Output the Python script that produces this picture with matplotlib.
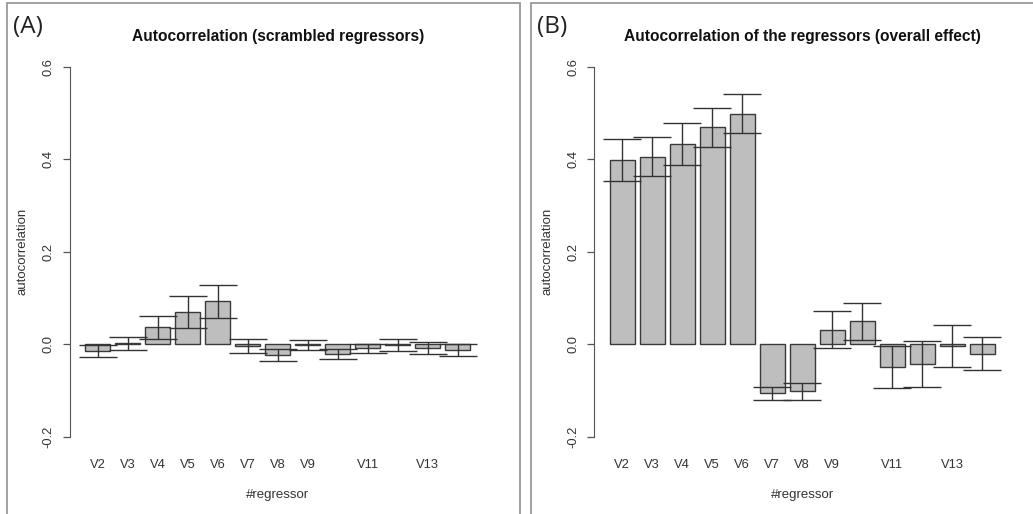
import numpy as np
import matplotlib
matplotlib.use("Agg")
import matplotlib.pyplot as plt
from matplotlib.patches import Rectangle

plt.rcParams["font.family"] = ["Liberation Sans", "DejaVu Sans"]

W, H = 1033, 514

regressors = ["V2", "V3", "V4", "V5", "V6", "V7", "V8", "V9", "V10", "V11", "V12", "V13", "V14"]
# R drops the labels that would overlap
shown_labels = ["V2", "V3", "V4", "V5", "V6", "V7", "V8", "V9", "", "V11", "", "V13", ""]

scrambled_mean = [-0.014, 0.002, 0.037, 0.070, 0.093, -0.003, -0.023, -0.0015,
                  -0.021, -0.009, -0.002, -0.008, -0.012]
scrambled_err = [0.013, 0.014, 0.025, 0.034, 0.036, 0.015, 0.013, 0.011,
                 0.011, 0.010, 0.013, 0.014, 0.013]

overall_mean = [0.398, 0.406, 0.433, 0.469, 0.499, -0.106, -0.102, 0.032,
                0.050, -0.049, -0.043, -0.004, -0.020]
overall_err = [0.045, 0.043, 0.045, 0.043, 0.043, 0.014, 0.019, 0.039,
               0.040, 0.046, 0.050, 0.046, 0.035]

panels = [
    ("(A)", "Autocorrelation (scrambled regressors)", scrambled_mean, scrambled_err),
    ("(B)", "Autocorrelation of the regressors (overall effect)", overall_mean, overall_err),
]

# pixel layout of each panel: (border left, border right, y axis x)
frames = [(6.7, 520, 70), (531, 1040, 594.3)]

TEXT = "#333333"


def px_rect(x0, y0, x1, y1):
    return [x0 / W, 1 - y1 / H, (x1 - x0) / W, (y1 - y0) / H]


def draw_panel(fig, frame, letter, title, means, errs):
    left, right, axis_x = frame
    fig.patches.append(Rectangle((left / W, -0.05), (right - left) / W, 1.05 - 3 / H,
                                 transform=fig.transFigure, fill=False,
                                 edgecolor="#9a9a9a", linewidth=1.3))
    fig.text((left + 6) / W, 1 - 27 / H, letter, fontsize=17.5, color="#222222",
             family=["Open Sans", "DejaVu Sans"], va="center", ha="left")

    ax = fig.add_axes(px_rect(axis_x, 52, axis_x + 415.8, 451.6))
    n = len(means)
    x = 0.7 + 1.2 * np.arange(n)
    ax.bar(x, means, width=1.0, color="#bebebe", edgecolor="#3a3a3a", linewidth=1.0)
    ax.errorbar(x, means, yerr=errs, fmt="none", ecolor="#333333",
                elinewidth=1.0, capsize=14, capthick=1.0)

    ax.set_xlim(0.2 - 0.616, 15.6 + 0.616)
    ax.set_ylim(-0.232, 0.632)
    for s in ["top", "right", "bottom"]:
        ax.spines[s].set_visible(False)
    ax.spines["left"].set_bounds(-0.2, 0.6)
    ax.spines["left"].set_color("#555555")
    ax.set_yticks([-0.2, 0.0, 0.2, 0.4, 0.6])
    ax.set_yticklabels(["-0.2", "0.0", "0.2", "0.4", "0.6"], rotation=90, va="center")
    ax.tick_params(axis="y", length=5, width=0.9, color="#555555", pad=6,
                   labelsize=9.3, labelcolor=TEXT)
    ax.set_xticks(x)
    ax.set_xticklabels(shown_labels)
    ax.tick_params(axis="x", length=0, pad=5, labelsize=9.3, labelcolor=TEXT)

    ax.set_title(title, fontsize=11.2, fontweight="bold", color="#111111", pad=8)
    ax.set_ylabel("autocorrelation", fontsize=9.5, color=TEXT, labelpad=10)
    ax.set_xlabel("#regressor", fontsize=9.5, color=TEXT, labelpad=13)
    ax.patch.set_visible(False)


def main():
    fig = plt.figure(figsize=(W / 100, H / 100), dpi=100)
    for frame, (letter, title, means, errs) in zip(frames, panels):
        draw_panel(fig, frame, letter, title, means, errs)
    fig.savefig("out.png", dpi=100)
    plt.close(fig)


if __name__ == "__main__":
    main()
